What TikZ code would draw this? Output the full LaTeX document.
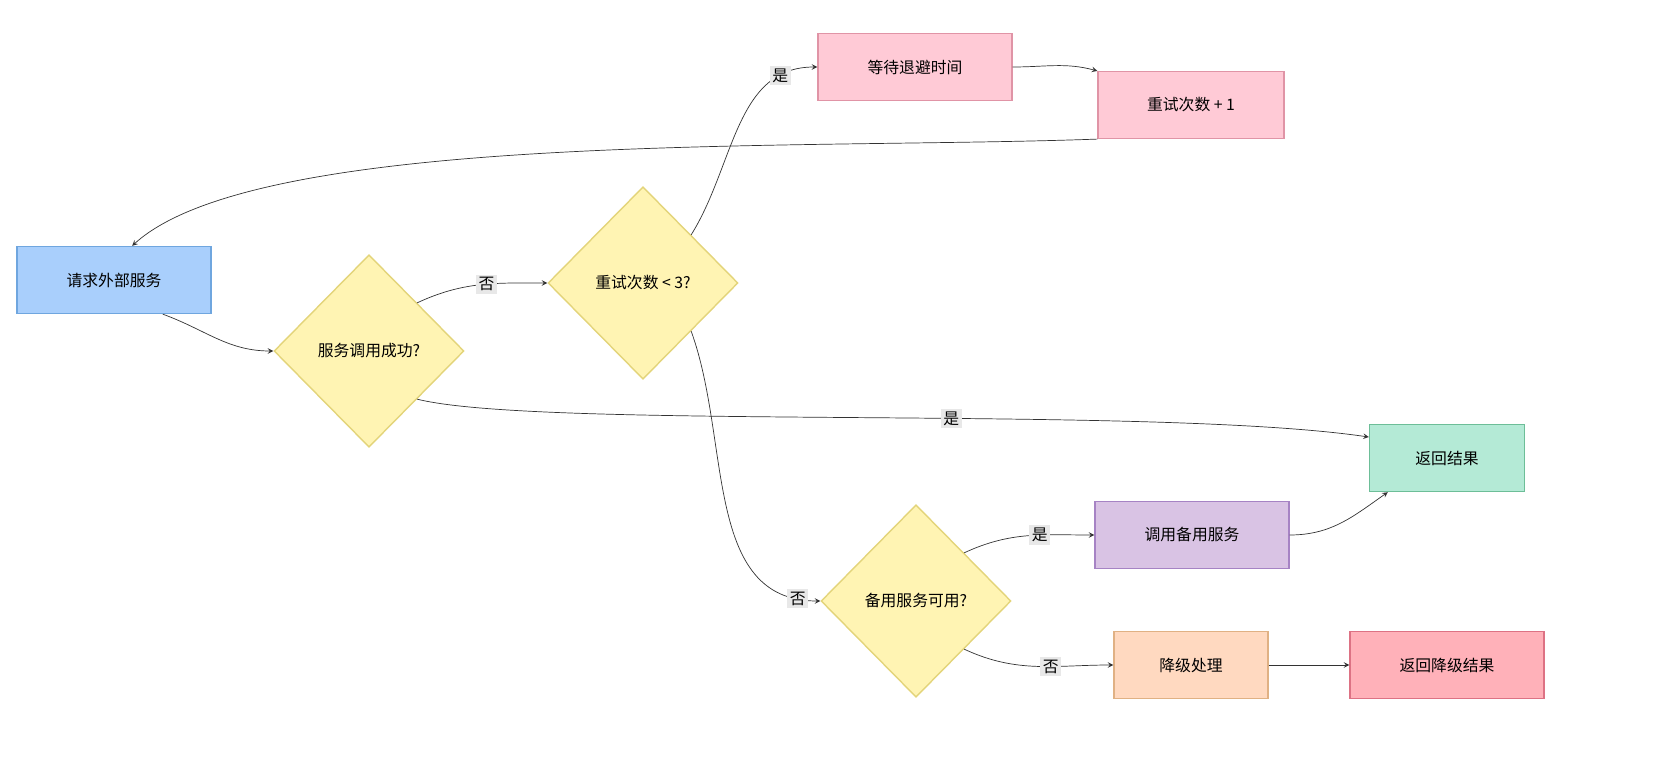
\documentclass[tikz,border=0pt]{standalone}
\usepackage{fontspec}
\setmainfont{Noto Sans CJK SC}
\usetikzlibrary{shapes.geometric, arrows}
\definecolor{bluef}{HTML}{A9CFFC}\definecolor{blued}{HTML}{6FA6DF}
\definecolor{yelf}{HTML}{FFF4B3}\definecolor{yeld}{HTML}{E3D47A}
\definecolor{pinkf}{HTML}{FFCAD6}\definecolor{pinkd}{HTML}{E094A6}
\definecolor{grnf}{HTML}{B4EAD6}\definecolor{grnd}{HTML}{6DBE98}
\definecolor{purf}{HTML}{D9C3E4}\definecolor{purd}{HTML}{A683C4}
\definecolor{pchf}{HTML}{FFD9C0}\definecolor{pchd}{HTML}{E0B184}
\definecolor{redf}{HTML}{FFB1B9}\definecolor{redd}{HTML}{DD7284}
\tikzstyle{box} = [rectangle, minimum width=3.88cm, minimum height=1.34cm, text centered, line width=0.8pt, font=\small]
\tikzstyle{dec} = [diamond, aspect=1, inner sep=0pt, minimum width=3.8cm, minimum height=3.85cm, text centered, draw=yeld, fill=yelf, line width=0.8pt, font=\small]
\tikzstyle{arrow} = [draw=black!80, ->, >=stealth]
\tikzstyle{lbl} = [fill=black!9, inner sep=1.5pt, font=\small]

\begin{document}
\begin{tikzpicture}[x=0.02cm, y=-0.02cm]
\useasboundingbox (0,0) rectangle (1662,766);

%Boxes
\node (req) [box, draw=blued, fill=bluef] at (114,280) {请求外部服务};
\node (succ) [dec] at (369,351) {服务调用成功?};
\node (retry) [dec] at (643,283) {重试次数 < 3?};
\node (wait) [box, draw=pinkd, fill=pinkf] at (915,67) {等待退避时间};
\node (inc) [box, minimum width=3.72cm, draw=pinkd, fill=pinkf] at (1191,105) {重试次数 + 1};
\node (result) [box, minimum width=3.1cm, draw=grnd, fill=grnf] at (1447,458) {返回结果};
\node (backup) [dec] at (916,601) {备用服务可用?};
\node (callbk) [box, draw=purd, fill=purf] at (1192,535) {调用备用服务};
\node (degrade) [box, minimum width=3.08cm, draw=pchd, fill=pchf] at (1191,665) {降级处理};
\node (degres) [box, draw=redd, fill=redf] at (1447,665) {返回降级结果};

%arrows
\draw [arrow] (req.-35) to[out=-20, in=180] (succ.west);
\draw [arrow] (succ.45) to[out=25, in=180] node[lbl, pos=0.55] {否} (retry.west);
\draw [arrow] (succ.-45) .. controls (540,430) and (1150,405) .. node[lbl, pos=0.58] {是} (result.165);
\draw [arrow] (retry.45) to[out=58, in=180] node[lbl, pos=0.82] {是} (wait.west);
\draw [arrow] (wait.east) to[out=0, in=165] (inc.160);
\draw [arrow] (inc.200) .. controls (800,150) and (260,130) .. (req.62);
\draw [arrow] (retry.-45) to[out=-70, in=180] node[lbl, pos=0.93] {否} (backup.west);
\draw [arrow] (backup.45) to[out=25, in=180] node[lbl, pos=0.6] {是} (callbk.west);
\draw [arrow] (backup.-45) to[out=-25, in=180] node[lbl, pos=0.6] {否} (degrade.west);
\draw [arrow] (callbk.east) to[out=0, in=-145] (result.-150);
\draw [arrow] (degrade) -- (degres);

\end{tikzpicture}
\end{document}
